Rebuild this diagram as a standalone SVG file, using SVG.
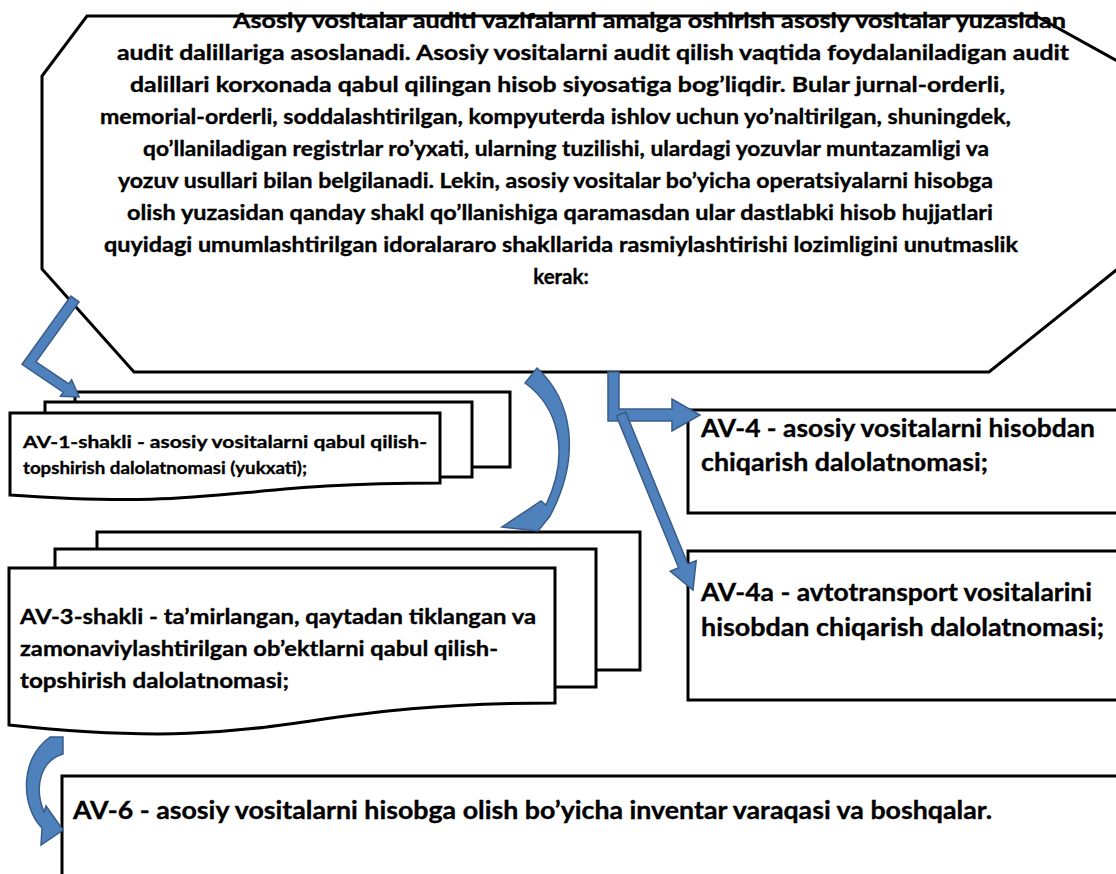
<svg xmlns="http://www.w3.org/2000/svg" width="1116" height="874" viewBox="0 0 1116 874">
  <style>
    .shape { fill: #ffffff; stroke: #000000; stroke-width: 3; stroke-linejoin: miter; }
    .txt { font-family: Lato, "Liberation Sans", sans-serif; font-weight: bold; fill: #000000; stroke: #000000; stroke-width: 0.35; }
    .t-oct { font-size: 20.5px; }
    .t-av1 { font-size: 17.5px; }
    .t-av3 { font-size: 21px; }
    .t-big { font-size: 24px; }
    .arrow { fill: #4F81BD; stroke: #385D8A; stroke-width: 1.5; stroke-linejoin: miter; }
  </style>

  <rect width="1116" height="874" fill="#ffffff"/>

  <!-- Octagon with the introductory paragraph -->
  <g id="intro">
    <path class="shape" d="M 87,16 L 1036,16 L 1130,68 L 1130,259 L 989,372 L 134,372 L 42,269 L 42,76 Z"/>
    <g class="txt t-oct">
      <text x="233" y="28" textLength="833" lengthAdjust="spacingAndGlyphs">Asosiy vositalar auditi vazifalarni amalga oshirish asosiy vositalar yuzasidan</text>
      <text x="117" y="60" textLength="952" lengthAdjust="spacingAndGlyphs">audit dalillariga asoslanadi. Asosiy vositalarni audit qilish vaqtida foydalaniladigan audit</text>
      <text x="130" y="92" textLength="875" lengthAdjust="spacingAndGlyphs">dalillari korxonada qabul qilingan hisob siyosatiga bog’liqdir. Bular jurnal-orderli,</text>
      <text x="100" y="124" textLength="911" lengthAdjust="spacingAndGlyphs">memorial-orderli, soddalashtirilgan, kompyuterda ishlov uchun yo’naltirilgan, shuningdek,</text>
      <text x="143" y="156" textLength="846" lengthAdjust="spacingAndGlyphs">qo’llaniladigan registrlar ro’yxati, ularning tuzilishi, ulardagi yozuvlar muntazamligi va</text>
      <text x="118" y="188" textLength="875" lengthAdjust="spacingAndGlyphs">yozuv usullari bilan belgilanadi. Lekin, asosiy vositalar bo’yicha operatsiyalarni hisobga</text>
      <text x="127" y="220" textLength="866" lengthAdjust="spacingAndGlyphs">olish yuzasidan qanday shakl qo’llanishiga qaramasdan ular dastlabki hisob hujjatlari</text>
      <text x="104" y="252" textLength="914" lengthAdjust="spacingAndGlyphs">quyidagi umumlashtirilgan idoralararo shakllarida rasmiylashtirishi lozimligini unutmaslik</text>
      <text x="561" y="284" text-anchor="middle">kerak:</text>
    </g>
  </g>

  <!-- AV-1 form: stacked documents -->
  <g id="av1">
    <rect class="shape" x="75" y="392" width="435" height="75"/>
    <rect class="shape" x="45" y="402" width="427" height="75"/>
    <path class="shape" d="M 10,413 L 440,413 L 440,483 C 225,483 225,510 10,495 Z"/>
    <g class="txt t-av1">
      <text x="23" y="448" textLength="404" lengthAdjust="spacingAndGlyphs">AV-1-shakli - asosiy vositalarni qabul qilish-</text>
      <text x="23" y="474" textLength="284" lengthAdjust="spacingAndGlyphs">topshirish dalolatnomasi (yukxati);</text>
    </g>
  </g>

  <!-- AV-3 form: stacked documents -->
  <g id="av3">
    <rect class="shape" x="97" y="532" width="543" height="138"/>
    <rect class="shape" x="55" y="549" width="541" height="138"/>
    <path class="shape" d="M 9,568 L 555,568 L 555,703 C 282,703 282,754 9,725 Z"/>
    <g class="txt t-av3">
      <text x="20" y="624" textLength="516" lengthAdjust="spacingAndGlyphs">AV-3-shakli - ta’mirlangan, qaytadan tiklangan va</text>
      <text x="20" y="656" textLength="478" lengthAdjust="spacingAndGlyphs">zamonaviylashtirilgan ob’ektlarni qabul qilish-</text>
      <text x="20" y="688" textLength="269" lengthAdjust="spacingAndGlyphs">topshirish dalolatnomasi;</text>
    </g>
  </g>

  <!-- AV-4 form -->
  <g id="av4">
    <rect class="shape" x="688" y="410" width="500" height="103"/>
    <g class="txt t-big">
      <text x="701" y="437" textLength="394" lengthAdjust="spacingAndGlyphs">AV-4 - asosiy vositalarni hisobdan</text>
      <text x="701" y="471" textLength="287" lengthAdjust="spacingAndGlyphs">chiqarish dalolatnomasi;</text>
    </g>
  </g>

  <!-- AV-4a form -->
  <g id="av4a">
    <rect class="shape" x="688" y="551" width="500" height="149"/>
    <g class="txt t-big">
      <text x="701" y="601" textLength="391" lengthAdjust="spacingAndGlyphs">AV-4a - avtotransport vositalarini</text>
      <text x="701" y="636" textLength="403" lengthAdjust="spacingAndGlyphs">hisobdan chiqarish dalolatnomasi;</text>
    </g>
  </g>

  <!-- AV-6 form -->
  <g id="av6">
    <rect class="shape" x="62" y="776" width="1100" height="200"/>
    <text class="txt t-big" x="73" y="819" textLength="919" lengthAdjust="spacingAndGlyphs">AV-6 - asosiy vositalarni hisobga olish bo’yicha inventar varaqasi va boshqalar.</text>
  </g>

  <!-- Block arrows linking the paragraph to the forms -->
  <g id="connectors">
    <!-- bent arrow down to AV-1 -->
    <polygon class="arrow" points="79.1,301.9 36,361.8 68.8,383.9 71.6,379.7 79.2,396.9 60.4,396.3 63.2,392.1 22,364.3 70.9,296.1"/>
    <!-- curved arrow from AV-1 to AV-3 -->
    <path class="arrow" d="M 525,383 C 556,405 572,450 546,505 L 541,501 L 502,527 L 538,531 L 550,516 C 582,455 572,400 537,368 Z"/>
    <!-- bent arrow to AV-4 -->
    <polygon class="arrow" points="608,372 619,372 619,409 672,409 672,399 700,415 672,431 672,421 608,421"/>
    <!-- straight arrow to AV-4a -->
    <polygon class="arrow" points="625.6,412.1 687.8,564 696.2,560.6 693,590 670.2,571.2 678.6,567.8 616.4,415.9"/>
    <!-- curved arrow from AV-3 to AV-6 -->
    <path class="arrow" d="M 50,737 L 63,737 L 63,754 C 42,760 33,785 44,812 L 46,806 L 63,830 L 41,845 L 42,828 C 22,808 18,760 50,737 Z"/>
  </g>
</svg>
